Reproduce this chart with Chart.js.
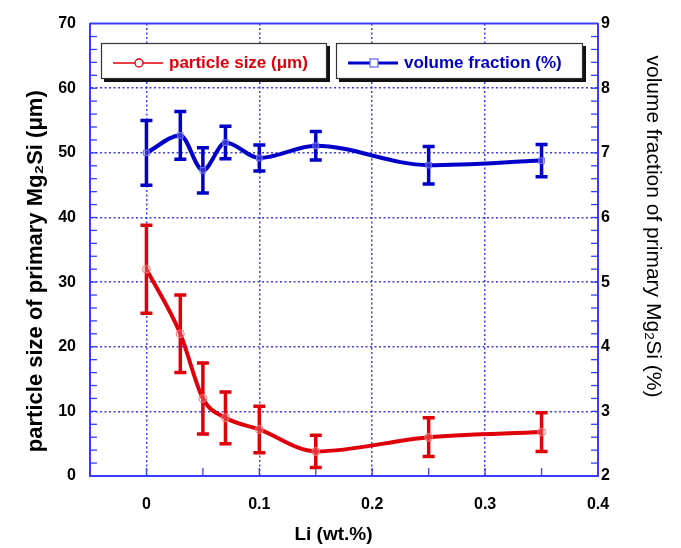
<!DOCTYPE html>
<html><head><meta charset="utf-8">
<script src="https://cdn.jsdelivr.net/npm/chart.js@4/dist/chart.umd.min.js"></script>
<style>html,body{margin:0;padding:0;background:#fff;}</style>
</head><body>
<canvas id="c" width="681" height="548"></canvas>
<script>
// ---- data ----
const liContent = [0, 0.03, 0.05, 0.07, 0.1, 0.15, 0.25, 0.35];
const particleSize = [32, 22, 12, 9, 7.2, 3.8, 6, 6.8];
const particleSizeErr = [6.8, 6, 5.5, 4, 3.6, 2.5, 3, 3];
const volumeFraction = [7.0, 7.27, 6.73, 7.16, 6.92, 7.11, 6.81, 6.88];
const volumeFractionErr = [0.5, 0.37, 0.35, 0.25, 0.2, 0.22, 0.29, 0.25];
const xTickLabels = ['0', '0.1', '0.2', '0.3', '0.4'];
const seriesLabels = ['particle size (\u03bcm)', 'volume fraction (%)'];

const RED = '#e0000a';
const BLUE = '#0000c8';
const AXIS = '#3c3cff';
const GRID = 'rgba(40,40,235,0.9)';
const FONT = "'Liberation Sans', Arial, sans-serif";

const errorMap = [particleSizeErr, volumeFractionErr];

const framePlugin = {
  id: 'frame',
  beforeDatasetsDraw(chart) {
    const ctx = chart.ctx, a = chart.chartArea;
    const xs = chart.scales.x, yl = chart.scales.y, yr = chart.scales.y2;
    ctx.save();
    // top border
    ctx.strokeStyle = AXIS; ctx.lineWidth = 2;
    ctx.beginPath(); ctx.moveTo(a.left, a.top); ctx.lineTo(a.right, a.top); ctx.stroke();
    // inward ticks
    ctx.lineWidth = 1.3;
    for (let v = 2; v < 70; v += 2) {
      const y = yl.getPixelForValue(v);
      ctx.beginPath(); ctx.moveTo(a.left, y); ctx.lineTo(a.left + 7, y); ctx.stroke();
    }
    for (let k = 11; k < 45; k++) {
      const y = yr.getPixelForValue(k / 5);
      ctx.beginPath(); ctx.moveTo(a.right, y); ctx.lineTo(a.right - 7, y); ctx.stroke();
    }
    for (let k = 0; k < 8; k++) {
      const x = xs.getPixelForValue(k * 0.05);
      ctx.beginPath(); ctx.moveTo(x, a.bottom); ctx.lineTo(x, a.bottom - 8); ctx.stroke();
    }
    // error bars
    chart.data.datasets.forEach((ds, di) => {
      const ys = chart.scales[ds.yAxisID];
      const errs = errorMap[di];
      ctx.strokeStyle = ds.borderColor; ctx.lineWidth = 3.5; ctx.lineCap = 'butt';
      ds.data.forEach((p, i) => {
        const x = xs.getPixelForValue(p.x);
        const t = ys.getPixelForValue(p.y + errs[i]);
        const b = ys.getPixelForValue(p.y - errs[i]);
        ctx.beginPath();
        ctx.moveTo(x, t); ctx.lineTo(x, b);
        ctx.moveTo(x - 6, t); ctx.lineTo(x + 6, t);
        ctx.moveTo(x - 6, b); ctx.lineTo(x + 6, b);
        ctx.stroke();
      });
    });
    ctx.restore();
  },
  afterDraw(chart) {
    const ctx = chart.ctx;
    const boxes = [
      {x: 101, y: 43, w: 226, h: 36, color: RED, label: chart.data.datasets[0].label, thin: true, shape: 'circle'},
      {x: 336, y: 43, w: 247, h: 36, color: BLUE, label: chart.data.datasets[1].label, thin: false, shape: 'rect'}
    ];
    ctx.save();
    boxes.forEach(b => {
      ctx.fillStyle = '#111';
      ctx.fillRect(b.x + 3, b.y + 3, b.w, b.h);
      ctx.fillStyle = '#fff';
      ctx.fillRect(b.x, b.y, b.w, b.h);
      ctx.strokeStyle = '#333'; ctx.lineWidth = 1.2;
      ctx.strokeRect(b.x + 0.5, b.y + 0.5, b.w - 1, b.h - 1);
      const cy = b.y + 20;
      ctx.strokeStyle = b.color; ctx.lineWidth = b.thin ? 1.5 : 3;
      ctx.beginPath(); ctx.moveTo(b.x + 12, cy); ctx.lineTo(b.x + 62, cy); ctx.stroke();
      ctx.lineWidth = 1.3;
      ctx.fillStyle = '#fff';
      if (b.shape === 'circle') {
        ctx.beginPath(); ctx.arc(b.x + 38, cy, 4, 0, Math.PI * 2); ctx.fill(); ctx.stroke();
      } else {
        ctx.fillStyle = '#fff';
        ctx.fillRect(b.x + 34, cy - 4, 8, 8);
        ctx.strokeStyle = '#6a6aff';
        ctx.strokeRect(b.x + 34, cy - 4, 8, 8);
      }
      ctx.fillStyle = b.color;
      ctx.font = "bold 17px " + FONT;
      ctx.textBaseline = 'middle';
      ctx.textAlign = 'left';
      ctx.fillText(b.label, b.x + 68, cy);
    });
    ctx.restore();
  }
};

const toPts = (ys) => liContent.map((x, i) => ({x: x, y: ys[i]}));

new Chart(document.getElementById('c'), {
  type: 'line',
  data: {
    datasets: [
      {
        label: seriesLabels[0], data: toPts(particleSize), yAxisID: 'y',
        borderColor: RED, borderWidth: 4, cubicInterpolationMode: 'monotone',
        pointStyle: 'circle', pointRadius: 4, pointBorderWidth: 1,
        pointBorderColor: '#ff7070', pointBackgroundColor: 'rgba(255,255,255,0.2)'
      },
      {
        label: seriesLabels[1], data: toPts(volumeFraction), yAxisID: 'y2',
        borderColor: BLUE, borderWidth: 4, cubicInterpolationMode: 'monotone',
        pointStyle: 'rect', pointRadius: 4, pointBorderWidth: 1,
        pointBorderColor: '#7070ff', pointBackgroundColor: 'rgba(255,255,255,0.2)'
      }
    ]
  },
  options: {
    responsive: false, animation: false, devicePixelRatio: 1,
    layout: {padding: {top: 19, left: 0, right: 0, bottom: 0}},
    plugins: {legend: {display: false}, tooltip: {enabled: false}},
    scales: {
      x: {
        type: 'linear', position: 'bottom', min: -0.05, max: 0.4,
        afterFit: s => { s.height = 72; },
        ticks: {
          stepSize: 0.05, autoSkip: false, maxRotation: 0, padding: 19,
          color: '#000', font: {family: FONT, size: 16, weight: 'bold'},
          callback: v => { const r = Math.round(v * 100); return (r >= 0 && r % 10 === 0) ? xTickLabels[r / 10] : ''; }
        },
        grid: {
          drawTicks: false, lineWidth: 1.5,
          color: c => { const r = Math.round(c.tick.value * 100); return (r >= 0 && r < 40 && r % 10 === 0) ? GRID : 'rgba(0,0,0,0)'; }
        },
        border: {display: true, color: AXIS, width: 2, dash: [2, 2.5]},
        title: {display: true, text: 'Li (wt.%)    ', color: '#000', font: {family: FONT, size: 19, weight: 'bold'}, padding: {top: 0, bottom: 2}}
      },
      y: {
        type: 'linear', position: 'left', min: 0, max: 70,
        afterFit: s => { s.width = 90; },
        ticks: {stepSize: 10, padding: 14, color: '#000', font: {family: FONT, size: 16, weight: 'bold'}},
        grid: {
          drawTicks: false, lineWidth: 1.5,
          color: c => (c.tick.value > 0 && c.tick.value < 70) ? GRID : 'rgba(0,0,0,0)'
        },
        border: {display: true, color: AXIS, width: 2, dash: [2, 2.5]},
        title: {display: true, text: 'particle size of primary Mg\u2082Si (\u03bcm)       ', color: '#000', font: {family: FONT, size: 22, weight: 'bold'}, padding: {top: 23, bottom: 0}}
      },
      y2: {
        type: 'linear', position: 'right', min: 2, max: 9,
        afterFit: s => { s.width = 83; },
        ticks: {stepSize: 1, padding: 3, color: '#000', font: {family: FONT, size: 16, weight: 'bold'}},
        grid: {drawOnChartArea: false, drawTicks: false},
        border: {display: true, color: AXIS, width: 2},
        title: {display: true, text: 'volume fraction of primary Mg\u2082Si (%)        ', color: '#000', font: {family: FONT, size: 21, weight: 'normal'}, padding: {top: 16, bottom: 0}}
      }
    }
  },
  plugins: [framePlugin]
});
</script>
</body></html>
